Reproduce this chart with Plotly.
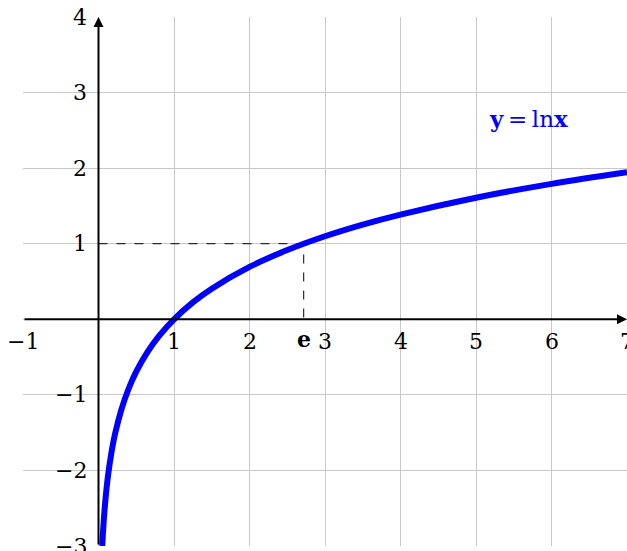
import plotly.graph_objects as go

# y = ln x, sampled points
curve_x = [0.0498, 0.06, 0.08, 0.1, 0.13, 0.17, 0.22, 0.3, 0.4, 0.5, 0.65, 0.8,
           1.0, 1.25, 1.5, 2.0, 2.5, 3.0, 3.5, 4.0, 5.0, 6.0, 7.0]
curve_y = [-3.0, -2.813, -2.526, -2.303, -2.040, -1.772, -1.514, -1.204, -0.916,
           -0.693, -0.431, -0.223, 0.0, 0.223, 0.405, 0.693, 0.916, 1.099, 1.253,
           1.386, 1.609, 1.792, 1.946]

x_ticks = [-1, 1, 2, 3, 4, 5, 6, 7]
y_ticks = [-3, -2, -1, 1, 2, 3, 4]
e_val = 2.718

font = "DejaVu Serif"

fig = go.Figure()

# dashed guides to (e, 1)
fig.add_trace(go.Scatter(x=[0, e_val, e_val], y=[1, 1, 0], mode="lines",
                         line=dict(color="black", width=1, dash="dash"),
                         hoverinfo="skip"))

fig.add_trace(go.Scatter(x=curve_x, y=curve_y, mode="lines", line_shape="spline",
                         line=dict(color="blue", width=6), hoverinfo="skip"))

ann = []
# axes with arrows
ann.append(dict(x=7, y=0, ax=-1, ay=0, xref="x", yref="y", axref="x", ayref="y",
                showarrow=True, arrowhead=2, arrowsize=1, arrowwidth=2,
                arrowcolor="black", text=""))
ann.append(dict(x=0, y=4, ax=0, ay=-3, xref="x", yref="y", axref="x", ayref="y",
                showarrow=True, arrowhead=2, arrowsize=1, arrowwidth=2,
                arrowcolor="black", text=""))

for t in x_ticks:
    lab = "\u2212" + str(-t) if t < 0 else str(t)
    ann.append(dict(x=t, y=-0.1, xref="x", yref="y", text=lab, showarrow=False,
                    xanchor="center", yanchor="top",
                    font=dict(family=font, size=22, color="black")))
for t in y_ticks:
    lab = "\u2212" + str(-t) if t < 0 else str(t)
    ann.append(dict(x=-0.13, y=t, xref="x", yref="y", text=lab, showarrow=False,
                    xanchor="right", yanchor="middle",
                    font=dict(family=font, size=22, color="black")))

ann.append(dict(x=e_val, y=-0.06, xref="x", yref="y", text="<b>e</b>",
                showarrow=False, xanchor="center", yanchor="top",
                font=dict(family=font, size=22, color="black")))
ann.append(dict(x=5.7, y=2.66, xref="x", yref="y",
                text="<b>y</b>\u2009=\u2009ln<b>x</b>",
                showarrow=False, xanchor="center", yanchor="middle",
                font=dict(family=font, size=23, color="blue")))

fig.update_layout(
    width=627, height=551,
    margin=dict(l=23, r=0, t=17, b=5, autoexpand=False),
    plot_bgcolor="white", paper_bgcolor="white",
    showlegend=False,
    annotations=ann,
    xaxis=dict(range=[-1, 7], dtick=1, tick0=0, showgrid=True, gridcolor="#c8c8c8",
               gridwidth=1, zeroline=False, showticklabels=False, ticks="",
               showline=False, fixedrange=True, automargin=False),
    yaxis=dict(range=[-3, 4], dtick=1, tick0=0, showgrid=True, gridcolor="#c8c8c8",
               gridwidth=1, zeroline=False, showticklabels=False, ticks="",
               showline=False, fixedrange=True, automargin=False),
)

# drop the page's default body margin so the figure fills the window
fig.write_html("out.html", config={"displayModeBar": False},
               post_script="document.body.style.margin='0';document.body.style.overflow='hidden';")
